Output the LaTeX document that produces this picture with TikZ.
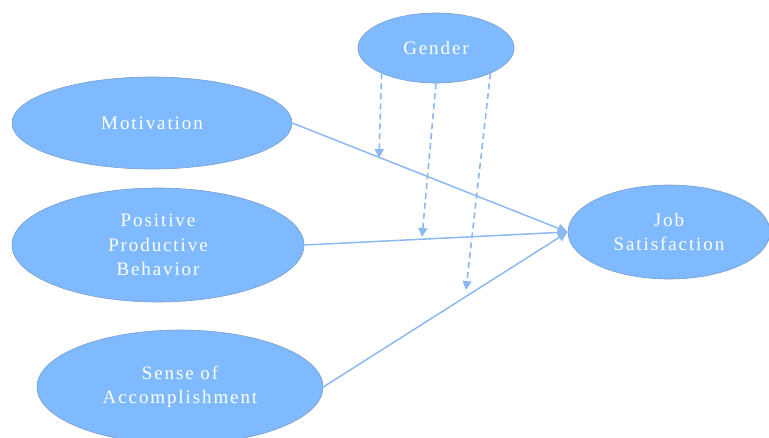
\documentclass[tikz,border=0pt]{standalone}
\usepackage{fontspec}
\setmainfont{Liberation Serif}
\newfontfamily\spaced[LetterSpace=10]{Liberation Serif}
\usetikzlibrary{shapes.geometric,arrows.meta}
\definecolor{ellfill}{HTML}{7FBAFF}
\definecolor{elldraw}{HTML}{7A9CCB}
\definecolor{linec}{HTML}{8CB9EF}
\tikzset{
  oval/.style={ellipse, fill=ellfill, draw=elldraw, line width=0.6pt, inner sep=0pt,
    text=white, align=center, font=\spaced\fontsize{19}{24.5}\selectfont},
  conn/.style={draw=linec, line width=1.5pt, -{Triangle[length=10pt,width=9pt]}},
  mod/.style={draw=linec, line width=1.6pt, dash pattern=on 6pt off 4pt, -{Triangle[length=9pt,width=9pt]}}
}
\begin{document}
\begin{tikzpicture}[x=1pt,y=-1pt]
\useasboundingbox (0,0) rectangle (769,437);
\node[oval, minimum width=156pt, minimum height=70pt] (gender) at (436,48) {Gender};
\node[oval, minimum width=280pt, minimum height=92pt] (mot) at (152,123) {Motivation};
\node[oval, minimum width=292pt, minimum height=114pt] (ppb) at (158,245) {Positive\\Productive\\Behavior};
\node[oval, minimum width=286pt, minimum height=114pt] (soa) at (180,387) {Sense of\\Accomplishment};
\node[oval, minimum width=202pt, minimum height=94pt] (job) at (669,232) {Job\\Satisfaction};
\coordinate (m1) at (379,158);
\coordinate (m2) at (422,237);
\coordinate (m3) at (466,290);
\draw[conn] (mot.east) -- (job.west);
\draw[conn] (ppb.east) -- (job.west);
\draw[conn] (soa.east) -- (job.west);
\draw[mod] (gender.205) -- (m1);
\draw[mod] (gender.270) -- (m2);
\draw[mod] (gender.335) -- (m3);
\end{tikzpicture}
\end{document}
